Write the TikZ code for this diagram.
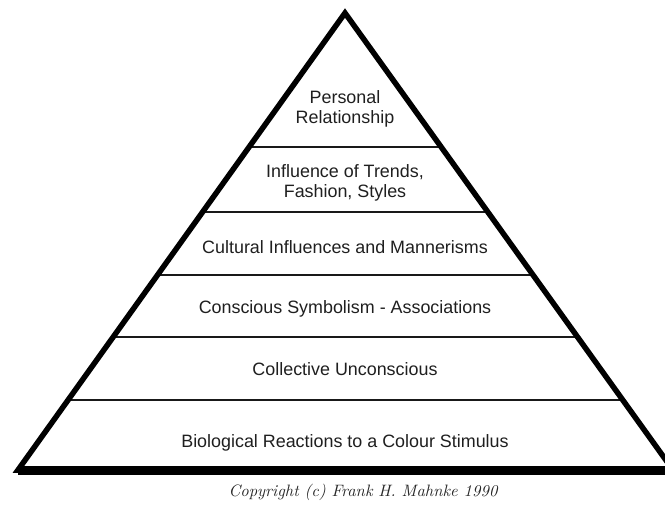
\documentclass[tikz,border=0pt]{standalone}
\usepackage{fontspec}
\setmainfont{Liberation Sans}
\newfontfamily\cpfont{lmroman10-italic.otf}
\usetikzlibrary{calc}
\begin{document}
\begin{tikzpicture}[x=1pt,y=-1pt,
  edge/.style={line width=5.5pt,line join=miter,black},
  basebar/.style={line width=9pt,black},
  divider/.style={line width=2.5pt,black!90},
  label/.style={font=\fontsize{17.9}{20}\selectfont,text=black!88,align=center,anchor=base,inner sep=0pt},
  copy/.style={font=\cpfont\fontsize{16.5}{18}\selectfont,text=black!85,anchor=base,inner sep=0pt}]
\useasboundingbox (0,0) rectangle (665,506);
\clip (0,0) rectangle (665,506);
\coordinate (A) at (345,13);
\coordinate (BL) at (18,470);
\coordinate (BR) at (673,470);
% divider end points on the edges
\foreach \n/\y in {1/147,2/212,3/275,4/337,5/400}{
  \coordinate (L\n) at ($(A)!{(\y-13)/457}!(BL)$);
  \coordinate (R\n) at ($(A)!{(\y-13)/457}!(BR)$);
}
\foreach \n in {1,...,5}{
  \draw[divider] (L\n) -- (R\n);
}
\draw[edge] (A) -- (BL) -- (BR) -- cycle;
\draw[basebar] (BL) -- (BR);
\node[label] (t1) at (345,123) {Personal\\Relationship};
\node[label] (t2) at (345,197) {Influence of Trends,\\Fashion, Styles};
\node[label] (t3) at (345,253) {Cultural Influences and Mannerisms};
\node[label] (t4) at (345,313) {Conscious Symbolism - Associations};
\node[label] (t5) at (345,375) {Collective Unconscious};
\node[label] (t6) at (345,447) {Biological Reactions to a Colour Stimulus};
\node[copy] (cp) at (363,496) {Copyright (c) Frank H. Mahnke 1990};
\end{tikzpicture}
\end{document}
